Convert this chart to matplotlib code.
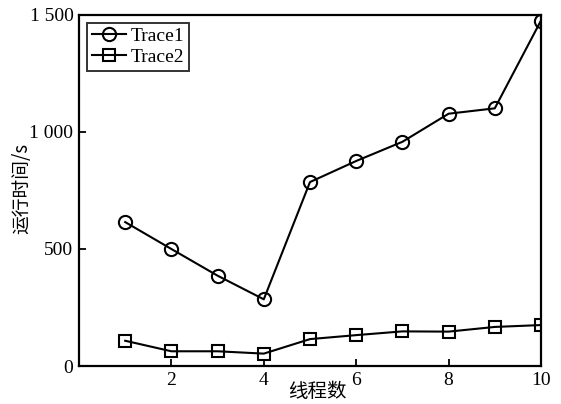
import matplotlib
matplotlib.use("Agg")
import matplotlib.pyplot as plt
from matplotlib.ticker import FuncFormatter

threads = [1, 2, 3, 4, 5, 6, 7, 8, 9, 10]
trace1 = [615, 500, 386, 285, 786, 876, 958, 1078, 1101, 1476]
trace2 = [108, 63, 63, 53, 115, 132, 148, 147, 167, 175]
x_ticks = [2, 4, 6, 8, 10]
y_ticks = [0, 500, 1000, 1500]

serif = ["Liberation Serif", "DejaVu Serif"]
cjk = ["Noto Sans CJK SC", "DejaVu Sans"]

fig = plt.figure(figsize=(5.61, 4.04), dpi=100)
ax = fig.add_axes([0.1408, 0.094, 0.8235, 0.869])

ax.plot(threads, trace1, color="black", lw=1.5, marker="o", ms=9.5,
        mfc="none", mec="black", mew=1.5, label="Trace1")
ax.plot(threads, trace2, color="black", lw=1.5, marker="s", ms=8,
        mfc="none", mec="black", mew=1.5, label="Trace2")

ax.set_xlim(0, 10)
ax.set_ylim(0, 1500)
ax.set_xticks(x_ticks)
ax.set_yticks(y_ticks)


def thousands(v, pos):
    v = int(round(v))
    if v >= 1000:
        return f"{v // 1000} {v % 1000:03d}"
    return str(v)


ax.yaxis.set_major_formatter(FuncFormatter(thousands))
ax.tick_params(direction="in", length=5, width=1.3, labelsize=14,
               top=False, right=False, pad=4)
for lab in ax.get_xticklabels() + ax.get_yticklabels():
    lab.set_fontfamily(serif)

for sp in ax.spines.values():
    sp.set_linewidth(1.6)

ax.set_xlabel("线程数", family=cjk, fontsize=14)
ax.xaxis.label.set_va("center")
ax.xaxis.set_label_coords(0.515, -0.072)
ax.set_ylabel("运行时间/s", family=cjk, fontsize=13.5)
ax.yaxis.label.set_va("center")
ax.yaxis.set_label_coords(-0.124, 0.507)

leg = ax.legend(loc="upper left", prop={"family": serif, "size": 14},
                frameon=True, fancybox=False, edgecolor="black",
                borderaxespad=0.4, handlelength=1.75, handletextpad=0.25,
                borderpad=0.25, labelspacing=0.15)
leg.get_frame().set_linewidth(1.4)

fig.savefig("out.png", dpi=100)
